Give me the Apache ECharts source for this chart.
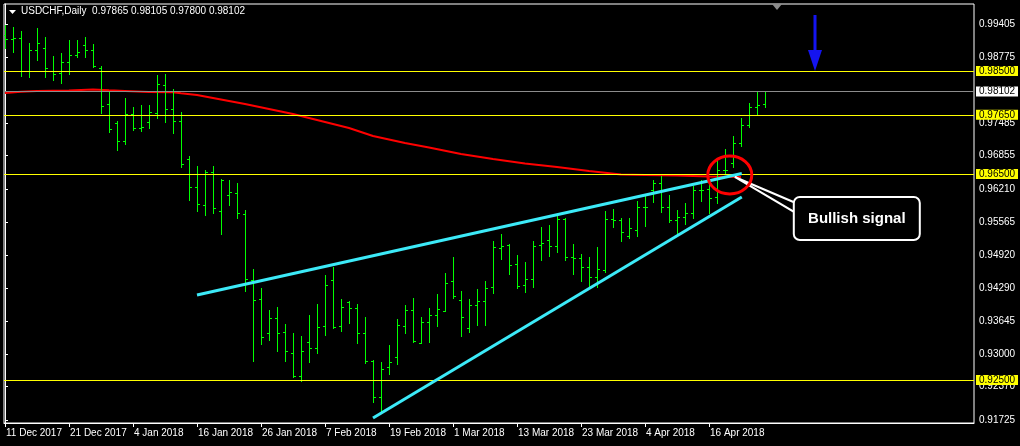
<!DOCTYPE html>
<html><head><meta charset="utf-8">
<script src="https://cdn.jsdelivr.net/npm/echarts@6/dist/echarts.min.js"></script>
<style>html,body{margin:0;padding:0;background:#000;}#c{width:1020px;height:446px;}</style>
</head><body><div id="c"></div><script>
const symbolName = 'USDCHF,Daily';
const lastQuote = ['0.97865', '0.98105', '0.97800', '0.98102'];
const dateLabels = ['11 Dec 2017','21 Dec 2017','4 Jan 2018','16 Jan 2018','26 Jan 2018','7 Feb 2018','19 Feb 2018','1 Mar 2018','13 Mar 2018','23 Mar 2018','4 Apr 2018','16 Apr 2018'];
const dateLabelIndex = [0, 8, 16, 24, 32, 40, 48, 56, 64, 72, 80, 88];
const opens = [0.99199,0.99121,0.99141,0.98505,0.98908,0.98947,0.98500,0.98461,0.98675,0.98811,0.99005,0.98908,0.98558,0.97859,0.97490,0.97141,0.97665,0.97393,0.97510,0.97684,0.98228,0.97762,0.97529,0.96791,0.96248,0.95898,0.96539,0.95782,0.96092,0.96131,0.95723,0.94442,0.94073,0.93413,0.93704,0.93432,0.93024,0.92578,0.93238,0.93121,0.93549,0.94442,0.93549,0.94015,0.93898,0.93413,0.92869,0.92170,0.92752,0.92947,0.93549,0.93859,0.93218,0.93626,0.93762,0.93840,0.94422,0.94053,0.93510,0.93956,0.94034,0.94306,0.95063,0.95121,0.94752,0.94345,0.94461,0.95121,0.95218,0.95102,0.95626,0.94888,0.94869,0.94694,0.94500,0.94636,0.95626,0.95607,0.95296,0.95413,0.95859,0.96189,0.96325,0.95859,0.95607,0.95665,0.95743,0.96189,0.96209,0.96053,0.96578,0.96713,0.97102,0.97451,0.97801,0.97865];
const highs = [0.99393,0.99354,0.99277,0.99044,0.99335,0.99160,0.98791,0.98850,0.99102,0.99102,0.99160,0.99024,0.98597,0.98092,0.97529,0.97976,0.97801,0.97840,0.97840,0.98422,0.98442,0.98150,0.97704,0.96850,0.96655,0.96578,0.96655,0.96403,0.96384,0.96325,0.95801,0.94655,0.94286,0.93859,0.93917,0.93587,0.93413,0.93354,0.93762,0.93976,0.94539,0.94694,0.94073,0.94034,0.93976,0.93723,0.92888,0.92850,0.93180,0.93684,0.93956,0.94092,0.93723,0.93898,0.94170,0.94578,0.94888,0.94228,0.94073,0.94267,0.94422,0.95199,0.95335,0.95141,0.94927,0.94791,0.95199,0.95471,0.95510,0.95684,0.95640,0.95141,0.94947,0.94888,0.95083,0.95782,0.95820,0.95646,0.95646,0.95976,0.96092,0.96384,0.96461,0.96092,0.95801,0.95937,0.96267,0.96384,0.96384,0.96772,0.96985,0.97238,0.97587,0.97879,0.98092,0.98105];
const lows = [0.98947,0.98869,0.98403,0.98384,0.98714,0.98384,0.98325,0.98267,0.98442,0.98772,0.98772,0.98578,0.97684,0.97316,0.96966,0.97083,0.97354,0.97335,0.97393,0.97587,0.97510,0.97296,0.96636,0.95995,0.95782,0.95704,0.95743,0.95335,0.95898,0.95646,0.94228,0.92869,0.93199,0.93277,0.93063,0.92869,0.92558,0.92480,0.92850,0.93024,0.93374,0.93510,0.93451,0.93607,0.93218,0.92830,0.92073,0.91879,0.92617,0.92811,0.93413,0.93238,0.93218,0.93238,0.93549,0.93840,0.94092,0.93354,0.93432,0.93568,0.93568,0.94189,0.94850,0.94558,0.94286,0.94209,0.94306,0.94830,0.94908,0.94985,0.94830,0.94558,0.94422,0.94306,0.94306,0.94597,0.95471,0.95199,0.95257,0.95296,0.95490,0.95956,0.95762,0.95568,0.95354,0.95529,0.95646,0.95976,0.95743,0.95937,0.96519,0.96636,0.97044,0.97413,0.97646,0.97800];
const closes = [0.99121,0.99141,0.98505,0.98908,0.99044,0.98558,0.98442,0.98675,0.98811,0.98869,0.98908,0.98597,0.97820,0.97374,0.97141,0.97665,0.97393,0.97413,0.97704,0.98248,0.97762,0.97529,0.96694,0.96248,0.95917,0.96539,0.95840,0.96390,0.96150,0.95743,0.94461,0.94053,0.93335,0.93704,0.93413,0.93063,0.92578,0.93063,0.93121,0.93529,0.94345,0.93529,0.93917,0.93898,0.93413,0.92869,0.92170,0.92714,0.92850,0.93568,0.93859,0.93257,0.93626,0.93762,0.93879,0.94383,0.94131,0.93723,0.93956,0.94034,0.94286,0.95083,0.95102,0.94733,0.94325,0.94461,0.95102,0.95160,0.95102,0.95626,0.94888,0.94869,0.94694,0.94500,0.94655,0.95626,0.95607,0.95374,0.95451,0.95859,0.95859,0.96325,0.95859,0.95607,0.95665,0.95743,0.96189,0.96189,0.96034,0.96578,0.96578,0.97102,0.97451,0.97801,0.97840,0.98102];
const maIndex = [0,2,4,8,11,13,15,18,21,22,24,30,36,40,43,46,50,53,57,61,65,69,73,77,80,84,88,92];
const maValues = [0.98073,0.98098,0.98112,0.98121,0.98141,0.98125,0.98112,0.98092,0.98086,0.98067,0.98034,0.97859,0.97665,0.97510,0.97393,0.97238,0.97102,0.97015,0.96889,0.96791,0.96704,0.96636,0.96559,0.96490,0.96481,0.96471,0.96452,0.96442];
const priceTicks = [0.99405,0.98775,0.97485,0.96855,0.96210,0.95565,0.94920,0.94290,0.93645,0.93000,0.92370,0.91725];
const levelLines = [0.98500, 0.97650, 0.96500, 0.92500];
const currentPrice = 0.98102;
const upperTrendX = [24, 92.1];
const upperTrendY = [0.94150, 0.96510];
const lowerTrendX = [46, 92.1];
const lowerTrendY = [0.91762, 0.96053];
const signalPoint = [90.6, 0.96481];
const signalText = 'Bullish signal';

const FONT = '"Liberation Sans", Arial, sans-serif';
const BAR_COLOR = '#00ff00';
const chart = echarts.init(document.getElementById('c'), null, {renderer: 'canvas'});

const ohlc = opens.map((o, i) => [i, o, highs[i], lows[i], closes[i]]);

function renderBar(params, api) {
  const i = api.value(0);
  const o = api.coord([i, api.value(1)]);
  const h = api.coord([i, api.value(2)]);
  const l = api.coord([i, api.value(3)]);
  const c = api.coord([i, api.value(4)]);
  const xi = Math.round(h[0]);
  const yo = Math.round(o[1]);
  const yc = Math.round(c[1]);
  const yh = Math.round(h[1]);
  const yl = Math.round(l[1]);
  const st = {fill: BAR_COLOR};
  return {type: 'group', children: [
    {type: 'rect', shape: {x: xi, y: yh, width: 1, height: yl - yh + 1}, style: st},
    {type: 'rect', shape: {x: xi - 2, y: yo, width: 2, height: 1}, style: st},
    {type: 'rect', shape: {x: xi + 1, y: yc, width: 2, height: 1}, style: st}
  ]};
}

const option = {
  backgroundColor: '#000',
  animation: false,
  grid: {left: 4, right: 46, top: 4, bottom: 23, show: true, borderColor: '#ffffff', borderWidth: 1, backgroundColor: '#000'},
  xAxis: {
    type: 'value', min: -0.125, max: 121.125,
    axisLine: {show: true, lineStyle: {color: '#ffffff', width: 1}},
    axisTick: {show: true, customValues: dateLabelIndex, length: 4, lineStyle: {color: '#ffffff'}},
    axisLabel: {show: true, customValues: dateLabelIndex, color: '#ffffff', fontFamily: FONT, fontSize: 10, align: 'left', margin: 5, padding: [0, 0, 0, 1],
      formatter: v => dateLabels[dateLabelIndex.indexOf(Math.round(v))] || ''},
    splitLine: {show: false}
  },
  yAxis: {
    type: 'value', position: 'right', min: 0.91665, max: 0.99801,
    axisLine: {show: true, lineStyle: {color: '#ffffff', width: 1}},
    axisTick: {show: true, customValues: priceTicks, length: 3, lineStyle: {color: '#ffffff'}},
    axisLabel: {show: true, customValues: priceTicks, color: '#ffffff', fontFamily: FONT, fontSize: 10, margin: 5,
      formatter: v => v.toFixed(5)},
    splitLine: {show: false}
  },
  series: [
    {
      name: 'MA', type: 'line', z: 2, symbol: 'none', silent: true,
      data: maIndex.map((x, i) => [x, maValues[i]]),
      lineStyle: {color: '#ff0000', width: 2}
    },
    {
      name: 'price', type: 'custom', z: 3, clip: true, silent: true,
      renderItem: renderBar,
      encode: {x: 0, y: [1, 2, 3, 4]},
      data: ohlc
    },
    {
      name: 'levels', type: 'line', z: 5, data: [], silent: true,
      markLine: {
        silent: true, symbol: ['none', 'none'], animation: false, precision: 5,
        data: levelLines.map(v => ({yAxis: v})).concat([{yAxis: currentPrice, lineStyle: {color: '#8c8c8c'}, label: {backgroundColor: '#ffffff'}}]),
        lineStyle: {color: '#ffff00', width: 1, type: 'solid'},
        label: {show: true, position: 'end', distance: 2, formatter: p => Number(p.value).toFixed(5), backgroundColor: '#ffff00',
          color: '#000000', fontFamily: FONT, fontSize: 10, lineHeight: 10, padding: [0, 3, 0, 3], width: 36}
      }
    },
    {
      name: 'upper', type: 'line', z: 6, symbol: 'none', silent: true,
      data: upperTrendX.map((x, i) => [x, upperTrendY[i]]),
      lineStyle: {color: '#3ceaf8', width: 3}
    },
    {
      name: 'lower', type: 'line', z: 6, symbol: 'none', silent: true,
      data: lowerTrendX.map((x, i) => [x, lowerTrendY[i]]),
      lineStyle: {color: '#3ceaf8', width: 3}
    }
  ]
};
chart.setOption(option);

const sp = chart.convertToPixel({gridIndex: 0}, signalPoint);
const cx = sp[0], cy = sp[1];
const boxX = cx + 64, boxY = cy + 22, boxW = 126, boxH = 43;

chart.setOption({
  graphic: [
    {type: 'polygon', z: 100, shape: {points: [[9, 10], [16, 10], [12.5, 14]]}, style: {fill: '#ffffff'}},
    {type: 'text', z: 100, left: 21, top: 6, style: {text: symbolName + '  ' + lastQuote.join(' '), fill: '#ffffff', font: '10px ' + FONT}},
    {type: 'polygon', z: 100, shape: {points: [[772, 4], [782, 4], [777, 10]]}, style: {fill: '#8c8c8c'}},
    {type: 'rect', z: 100, shape: {x: 813.5, y: 15, width: 3, height: 40}, style: {fill: '#1414f0'}},
    {type: 'polygon', z: 100, shape: {points: [[808, 50], [822, 50], [815, 71]]}, style: {fill: '#1414f0'}},
    {type: 'polygon', z: 100, shape: {points: [[cx + 5, cy + 2], [boxX + 2, boxY + 6], [boxX + 2, boxY + 16]]}, style: {fill: '#000', stroke: '#ffffff', lineWidth: 2}},
    {type: 'ellipse', z: 101, shape: {cx: cx, cy: cy, rx: 22, ry: 19}, style: {fill: 'none', stroke: '#ff0000', lineWidth: 3}},
    {type: 'rect', z: 102, shape: {x: boxX, y: boxY, width: boxW, height: boxH, r: 6}, style: {fill: '#000', stroke: '#ffffff', lineWidth: 2}},
    {type: 'text', z: 103, x: boxX + boxW / 2, y: boxY + boxH / 2, style: {text: signalText, fill: '#ffffff', font: 'bold 15px ' + FONT, align: 'center', verticalAlign: 'middle'}}
  ]
});
</script></body></html>
